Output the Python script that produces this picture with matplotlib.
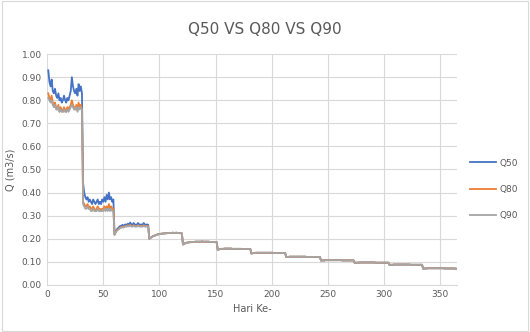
import numpy as np
import matplotlib.pyplot as plt

# January - March values differ per series
q50_jan = [0.93, 0.88, 0.86, 0.89, 0.84, 0.83, 0.85, 0.82, 0.81, 0.83, 0.80, 0.81, 0.79, 0.80, 0.82, 0.80,
           0.79, 0.81, 0.80, 0.82, 0.84, 0.90, 0.86, 0.84, 0.83, 0.85, 0.82, 0.87, 0.84, 0.86, 0.83]
q80_jan = [0.83, 0.81, 0.80, 0.82, 0.79, 0.78, 0.79, 0.77, 0.76, 0.78, 0.75, 0.77, 0.76, 0.75, 0.77, 0.76,
           0.75, 0.77, 0.76, 0.77, 0.78, 0.80, 0.78, 0.77, 0.76, 0.78, 0.76, 0.79, 0.77, 0.78, 0.76]
q90_jan = [0.81, 0.80, 0.79, 0.80, 0.78, 0.77, 0.78, 0.76, 0.76, 0.77, 0.75, 0.76, 0.75, 0.75, 0.76, 0.75,
           0.75, 0.76, 0.75, 0.76, 0.77, 0.78, 0.77, 0.76, 0.76, 0.77, 0.75, 0.77, 0.76, 0.77, 0.76]

q50_feb = [0.44, 0.40, 0.38, 0.37, 0.38, 0.36, 0.37, 0.36, 0.35, 0.37, 0.36, 0.35, 0.36, 0.37,
           0.35, 0.36, 0.35, 0.37, 0.36, 0.38, 0.36, 0.39, 0.37, 0.40, 0.37, 0.38, 0.36, 0.37]
q80_feb = [0.36, 0.35, 0.34, 0.34, 0.35, 0.33, 0.34, 0.33, 0.33, 0.34, 0.33, 0.32, 0.33, 0.34,
           0.33, 0.33, 0.32, 0.33, 0.33, 0.34, 0.33, 0.34, 0.33, 0.35, 0.33, 0.34, 0.33, 0.33]
q90_feb = [0.35, 0.34, 0.33, 0.33, 0.34, 0.33, 0.33, 0.32, 0.32, 0.33, 0.32, 0.32, 0.32, 0.33,
           0.32, 0.32, 0.32, 0.32, 0.32, 0.33, 0.32, 0.33, 0.32, 0.33, 0.32, 0.33, 0.32, 0.32]

q50_mar = [0.22, 0.23, 0.24, 0.245, 0.25, 0.255, 0.255, 0.26, 0.255, 0.26, 0.262, 0.26, 0.265, 0.262, 0.27, 0.262,
           0.26, 0.268, 0.262, 0.26, 0.262, 0.268, 0.262, 0.26, 0.262, 0.26, 0.268, 0.262, 0.26, 0.262, 0.26]
q80_mar = [0.218, 0.228, 0.236, 0.24, 0.244, 0.248, 0.25, 0.252, 0.25, 0.254, 0.255, 0.254, 0.258, 0.255, 0.26, 0.255,
           0.254, 0.258, 0.255, 0.254, 0.255, 0.258, 0.255, 0.254, 0.255, 0.254, 0.258, 0.255, 0.254, 0.255, 0.254]
q90_mar = [0.216, 0.226, 0.234, 0.238, 0.242, 0.246, 0.248, 0.25, 0.248, 0.252, 0.253, 0.252, 0.256, 0.253, 0.257, 0.253,
           0.252, 0.256, 0.253, 0.252, 0.253, 0.256, 0.253, 0.252, 0.253, 0.252, 0.256, 0.253, 0.252, 0.253, 0.252]

# April - December: the three series overlap
tail_apr = [0.200, 0.203, 0.207, 0.210, 0.212, 0.214, 0.216, 0.218, 0.219, 0.220, 0.221, 0.222, 0.222, 0.223, 0.223,
            0.224, 0.224, 0.225, 0.225, 0.225, 0.225, 0.226, 0.225, 0.225, 0.226, 0.225, 0.225, 0.224, 0.224, 0.223]
tail_may = [0.175, 0.178, 0.180, 0.182, 0.183, 0.184, 0.185, 0.185, 0.186, 0.186, 0.186, 0.187, 0.187, 0.187, 0.187, 0.187,
            0.187, 0.188, 0.187, 0.187, 0.187, 0.187, 0.187, 0.187, 0.186, 0.186, 0.186, 0.186, 0.186, 0.185, 0.185]
tail_jun = [0.152, 0.154, 0.155, 0.156, 0.156, 0.156, 0.157, 0.157, 0.157, 0.157, 0.157, 0.157, 0.157, 0.156, 0.156,
            0.156, 0.156, 0.156, 0.156, 0.156, 0.156, 0.156, 0.155, 0.155, 0.155, 0.155, 0.155, 0.155, 0.155, 0.155]
tail_jul = [0.136, 0.137, 0.138, 0.138, 0.139, 0.139, 0.139, 0.139, 0.139, 0.139, 0.139, 0.139, 0.139, 0.139, 0.139, 0.139,
            0.139, 0.139, 0.139, 0.139, 0.138, 0.138, 0.138, 0.138, 0.138, 0.138, 0.138, 0.138, 0.138, 0.138, 0.138]
tail_aug = [0.120, 0.121, 0.121, 0.122, 0.122, 0.122, 0.122, 0.122, 0.122, 0.122, 0.122, 0.122, 0.122, 0.122, 0.122, 0.122,
            0.122, 0.122, 0.121, 0.121, 0.121, 0.121, 0.121, 0.121, 0.121, 0.121, 0.121, 0.121, 0.121, 0.121, 0.121]
tail_sep = [0.105, 0.106, 0.106, 0.106, 0.107, 0.107, 0.107, 0.107, 0.107, 0.107, 0.107, 0.107, 0.107, 0.107, 0.107,
            0.107, 0.107, 0.107, 0.107, 0.106, 0.106, 0.106, 0.106, 0.106, 0.106, 0.106, 0.106, 0.106, 0.106, 0.106]
tail_oct = [0.095, 0.096, 0.096, 0.096, 0.097, 0.097, 0.097, 0.097, 0.097, 0.097, 0.097, 0.097, 0.097, 0.097, 0.097, 0.097,
            0.097, 0.097, 0.097, 0.096, 0.096, 0.096, 0.096, 0.096, 0.096, 0.096, 0.096, 0.096, 0.096, 0.096, 0.096]
tail_nov = [0.086, 0.087, 0.087, 0.087, 0.088, 0.088, 0.088, 0.088, 0.088, 0.088, 0.088, 0.088, 0.088, 0.088, 0.088,
            0.088, 0.088, 0.088, 0.088, 0.087, 0.087, 0.087, 0.087, 0.087, 0.087, 0.087, 0.087, 0.087, 0.087, 0.087]
tail_dec = [0.070, 0.071, 0.071, 0.071, 0.072, 0.072, 0.072, 0.072, 0.072, 0.072, 0.072, 0.072, 0.072, 0.072, 0.072, 0.072,
            0.072, 0.072, 0.072, 0.071, 0.071, 0.071, 0.071, 0.071, 0.071, 0.071, 0.071, 0.071, 0.071, 0.070, 0.070]

tail = (tail_apr + tail_may + tail_jun + tail_jul + tail_aug + tail_sep
        + tail_oct + tail_nov + tail_dec)

q50 = q50_jan + q50_feb + q50_mar + tail
q80 = q80_jan + q80_feb + q80_mar + tail
q90 = q90_jan + q90_feb + q90_mar + tail
days = np.arange(1, len(q50) + 1)

series_names = ['Q50', 'Q80', 'Q90']
colors = ['#4472C4', '#ED7D31', '#A5A5A5']
txt = '#595959'

fig = plt.figure(figsize=(5.3, 3.32), dpi=100)
ax = fig.add_axes([0.089, 0.142, 0.773, 0.695])

for y, name, c in zip([q50, q80, q90], series_names, colors):
    ax.plot(days, y, color=c, lw=1.3, label=name)

ax.set_xlim(0, 365)
ax.set_ylim(0, 1)
ax.set_xticks(np.arange(0, 351, 50))
ax.set_yticks(np.arange(0, 1.01, 0.1))
ax.yaxis.set_major_formatter(plt.FormatStrFormatter('%.2f'))
ax.grid(True, color='#D9D9D9', lw=0.8)
ax.set_axisbelow(True)
for s in ax.spines.values():
    s.set_visible(False)
ax.spines['bottom'].set_visible(True)
ax.spines['bottom'].set_color('#D9D9D9')
ax.tick_params(length=0, labelsize=6.5, colors=txt, pad=4)

ax.set_xlabel('Hari Ke-', fontsize=7, color=txt, labelpad=3)
ax.set_ylabel('Q (m3/s)', fontsize=7, color=txt, labelpad=4)
fig.suptitle('Q50 VS Q80 VS Q90', fontsize=11, color=txt, y=0.935)

fig.legend(loc='center left', bbox_to_anchor=(0.872, 0.43), frameon=False,
           fontsize=6.5, labelcolor=txt, handlelength=2.8, labelspacing=1.9,
           handletextpad=0.4)

fig.patches.append(plt.Rectangle((0.003, 0.004), 0.994, 0.992, transform=fig.transFigure,
                                 fill=False, edgecolor='#D9D9D9', lw=0.8))

fig.savefig('out.png', dpi=100)
